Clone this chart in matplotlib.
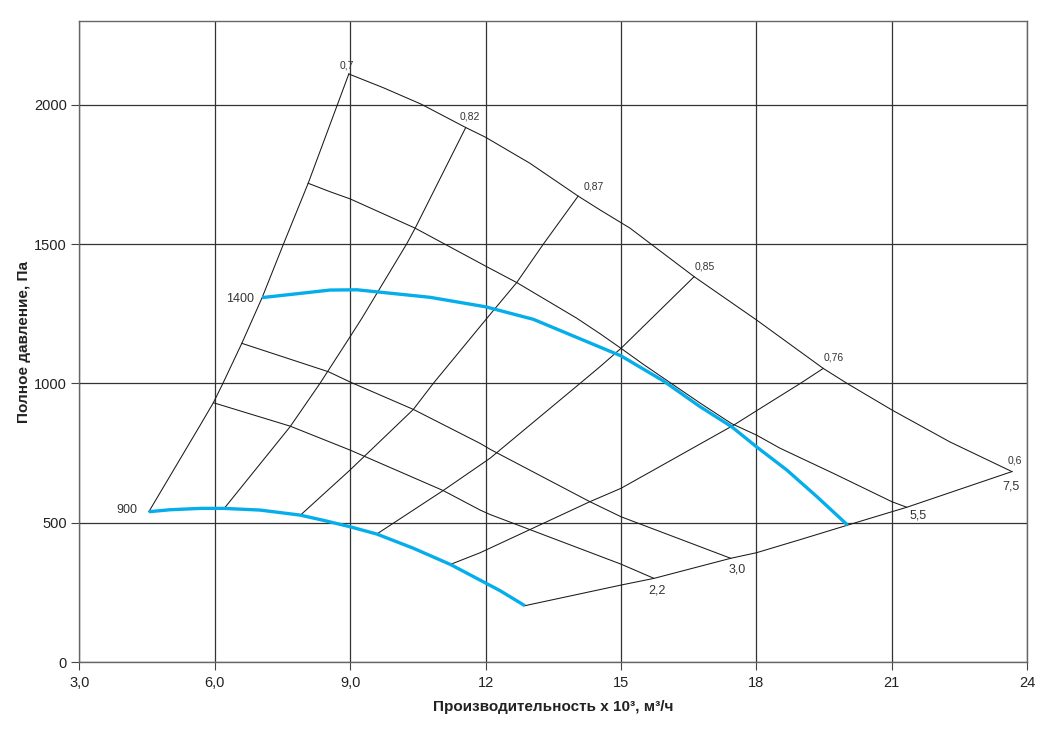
import matplotlib
matplotlib.use("Agg")
import matplotlib.pyplot as plt

plt.rcParams['font.family'] = ['Liberation Sans', 'DejaVu Sans']

# axis ticks
x_ticks = [3, 6, 9, 12, 15, 18, 21, 24]
x_tick_labels = ['3,0', '6,0', '9,0', '12', '15', '18', '21', '24']
y_ticks = [0, 500, 1000, 1500, 2000]
y_tick_labels = ['0', '500', '1000', '1500', '2000']

# working field boundaries
eff07_x = [4.54, 5.68, 5.97, 6.18, 6.6, 7.05, 7.52, 8.07, 8.55, 8.72, 8.97]
eff07_y = [540, 851, 931, 1000, 1144, 1308, 1499, 1718, 1927, 2001, 2110]

top_x = [8.97, 9.73, 10.57, 11.56, 12.0, 12.98, 14.05, 14.54, 15.2, 15.64, 16.62,
         18.0, 19.48, 20.0, 21.0, 22.29, 23.66]
top_y = [2110, 2061, 2002, 1918, 1883, 1790, 1672, 1622, 1557, 1503, 1383,
         1228, 1054, 1001, 905, 790, 684]

eff06_x = [12.87, 15.0, 15.73, 17.43, 18.0, 18.97, 20.02, 21.0, 21.33, 23.66]
eff06_y = [203, 277, 301, 373, 393, 440, 492, 540, 556, 684]

# rpm curves (blue)
rpm900_x = [4.54, 5.0, 5.68, 6.2, 7.0, 7.89, 8.44, 9.0, 9.59, 10.4, 11.22, 12.32, 12.87]
rpm900_y = [540, 547, 552, 552, 546, 528, 508, 486, 460, 409, 351, 257, 203]

rpm1400_x = [7.05, 8.0, 8.55, 9.15, 10.77, 12.0, 13.06, 14.54, 15.0, 15.94, 16.75,
             17.45, 18.0, 18.67, 19.34, 20.02]
rpm1400_y = [1308, 1325, 1335, 1336, 1309, 1275, 1230, 1130, 1099, 1009, 917,
             845, 773, 690, 594, 492]

# motor power curves, kW
p22_x = [5.97, 7.67, 9.0, 9.37, 11.06, 11.88, 12.1, 15.0, 15.73]
p22_y = [931, 847, 761, 735, 616, 546, 530, 352, 301]

p30_x = [6.6, 8.52, 9.03, 10.4, 11.88, 12.1, 14.31, 15.0, 17.43]
p30_y = [1144, 1042, 1003, 907, 785, 764, 576, 522, 373]

p55_x = [8.07, 8.55, 9.0, 10.44, 12.0, 12.69, 14.02, 14.54, 15.0, 15.5, 16.07,
         16.75, 17.45, 18.0, 18.52, 19.7, 21.0, 21.33]
p55_y = [1718, 1688, 1662, 1557, 1421, 1362, 1234, 1178, 1126, 1068, 1005,
         930, 856, 815, 768, 678, 576, 556]

# efficiency lines
eff082_x = [6.23, 7.67, 8.33, 9.0, 9.26, 10.25, 10.44, 11.56]
eff082_y = [556, 845, 1000, 1168, 1234, 1500, 1557, 1918]

eff087_x = [7.9, 9.0, 10.4, 10.84, 12.03, 12.69, 13.28, 14.05]
eff087_y = [528, 690, 907, 1000, 1234, 1362, 1500, 1672]

eff085_x = [9.59, 11.06, 12.1, 14.09, 14.54, 15.0, 16.62]
eff085_y = [460, 616, 732, 1000, 1061, 1126, 1383]

eff076_x = [11.22, 11.88, 14.31, 15.0, 17.49, 18.0, 18.97, 19.48]
eff076_y = [351, 393, 576, 624, 850, 902, 1000, 1054]

W, H = 1051, 732
fig = plt.figure(figsize=(W / 100, H / 100), dpi=100)
ax = fig.add_axes([79.3 / W, 1 - 662.3 / H, (1027.3 - 79.3) / W, (662.3 - 21) / H])

thin = dict(color='#1a1a1a', lw=0.75, zorder=3)
for xs, ys in [(eff07_x, eff07_y), (top_x, top_y), (eff06_x, eff06_y),
               (p22_x, p22_y), (p30_x, p30_y), (p55_x, p55_y),
               (eff082_x, eff082_y), (eff087_x, eff087_y),
               (eff085_x, eff085_y), (eff076_x, eff076_y)]:
    ax.plot(xs, ys, **thin)

blue = '#05aeea'
ax.plot(rpm900_x, rpm900_y, color=blue, lw=2.4, zorder=4, solid_capstyle='butt')
ax.plot(rpm1400_x, rpm1400_y, color=blue, lw=2.4, zorder=4, solid_capstyle='butt')

# labels on the curves
small = dict(fontsize=7.5, color='#333333', ha='center', va='center')
ax.text(8.92, 2140, '0,7', **small)
ax.text(11.65, 1956, '0,82', **small)
ax.text(14.4, 1705, '0,87', **small)
ax.text(16.86, 1420, '0,85', **small)
ax.text(19.72, 1092, '0,76', **small)
ax.text(23.73, 722, '0,6', **small)

mid = dict(fontsize=9, color='#333333', ha='center', va='center')
ax.text(23.63, 632, '7,5', **mid)
ax.text(21.58, 525, '5,5', **mid)
ax.text(17.57, 333, '3,0', **mid)
ax.text(15.8, 259, '2,2', **mid)
ax.text(6.88, 1304, '1400', fontsize=9, color='#333333', ha='right', va='center')
ax.text(4.28, 546, '900', fontsize=9, color='#333333', ha='right', va='center')

ax.set_xlim(3, 24)
ax.set_ylim(0, 2300)
ax.set_xticks(x_ticks)
ax.set_xticklabels(x_tick_labels)
ax.set_yticks(y_ticks)
ax.set_yticklabels(y_tick_labels)
ax.tick_params(direction='out', length=6, width=0.8, color='#444444',
               labelsize=10.5, labelcolor='#222222')
ax.tick_params(axis='x', pad=4)
ax.tick_params(axis='y', pad=3)
ax.grid(True, color='#333333', lw=0.9, zorder=1)
ax.set_axisbelow(True)
for s in ax.spines.values():
    s.set_color('#666666')
    s.set_linewidth(1.0)

ax.set_xlabel('Производительность х 10³, м³/ч', fontsize=11, fontweight='bold',
              color='#222222', labelpad=7)
ax.set_ylabel('Полное давление, Па', fontsize=11, fontweight='bold',
              color='#222222', labelpad=2)

fig.savefig('out.png', dpi=100)
